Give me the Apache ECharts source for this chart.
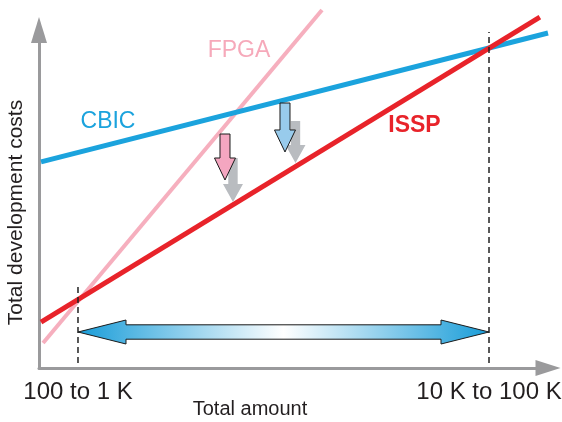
<!DOCTYPE html>
<html>
<head>
<meta charset="utf-8">
<script src="https://cdn.jsdelivr.net/npm/echarts@6/dist/echarts.min.js"></script>
<style>
html,body{margin:0;padding:0;background:#fff;}
#chart{width:562px;height:422px;}
</style>
</head>
<body>
<div id="chart"></div>
<script>
// ---- data (conceptual value space 0..100 on both axes) ----
const cbicLine = [[0.4, 61.0], [100, 99.1]];
const isspLine = [[0.4, 13.6], [98.4, 103.8]];
const fpgaLine = [[0.8, 7.4], [55.6, 105.9]];
const tickValues = [7.66, 88.41];
const tickLabels = ['100 to 1 K', '10 K to 100 K'];
const dashLeft = [[7.66, 1.5], [7.66, 24.3]];
const dashRight = [[88.41, 1.5], [88.41, 99.4]];
const rangeArrow = [[7.66, 88.41, 10.65]];
const shadowArrows = [[38.11, 62.13, 49.11], [50.39, 73.08, 60.65]];
const shiftArrows = [[36.54, 69.23, 55.62], [48.33, 78.40, 63.91]];
const seriesNames = ['CBIC', 'FPGA', 'ISSP'];
const xTitle = 'Total amount';
const yTitle = 'Total development costs';

const FONT = '"Liberation Sans", Arial, Helvetica, sans-serif';
const C_CBIC = '#1BA3DD', C_ISSP = '#E8232A', C_FPGA = '#F6AFBE';
const AXIS = '#9A9A9C';

const chart = echarts.init(document.getElementById('chart'), null, {renderer: 'canvas'});

function renderRange(params, api) {
  const p1 = api.coord([api.value(0), api.value(2)]);
  const p2 = api.coord([api.value(1), api.value(2)]);
  const y = p1[1], L = 48, H = 12, S = 7.2;
  const pts = [[p1[0], y], [p1[0] + L, y - H], [p1[0] + L, y - S], [p2[0] - L, y - S], [p2[0] - L, y - H],
    [p2[0], y], [p2[0] - L, y + H], [p2[0] - L, y + S], [p1[0] + L, y + S], [p1[0] + L, y + H]];
  return {
    type: 'polygon', shape: {points: pts},
    style: {
      fill: new echarts.graphic.LinearGradient(0, 0, 1, 0, [
        {offset: 0, color: '#189CD8'}, {offset: 0.5, color: '#FFFFFF'}, {offset: 1, color: '#189CD8'}]),
      stroke: '#1a1a1a', lineWidth: 1
    }
  };
}
function makeDown(fills, stroke, hw, sw, hl) {
  return function (params, api) {
    const top = api.coord([api.value(0), api.value(1)]);
    const tip = api.coord([api.value(0), api.value(2)]);
    const x = top[0];
    const pts = [[x - sw, top[1]], [x + sw, top[1]], [x + sw, tip[1] - hl], [x + hw, tip[1] - hl],
      [x, tip[1]], [x - hw, tip[1] - hl], [x - sw, tip[1] - hl]];
    return {
      type: 'polygon', shape: {points: pts},
      style: {fill: fills[params.dataIndex % fills.length], stroke: stroke, lineWidth: stroke ? 1 : 0}
    };
  };
}

const option = {
  animation: false,
  grid: {left: 39, top: 30, right: 14, bottom: 54, containLabel: false, outerBoundsMode: 'none'},
  xAxis: {
    type: 'value', min: 0, max: 100,
    splitLine: {show: false},
    axisTick: {show: false},
    axisLine: {show: true, lineStyle: {color: AXIS, width: 3}, symbol: ['none', 'triangle'], symbolSize: [16, 25]},
    axisLabel: {
      show: true, customValues: tickValues, margin: 12,
      fontFamily: FONT, fontSize: 24, color: '#231F20',
      formatter: function (v) { const i = tickValues.indexOf(v); return i >= 0 ? tickLabels[i] : ''; }
    }
  },
  yAxis: {
    type: 'value', min: 0, max: 100,
    splitLine: {show: false}, axisTick: {show: false}, axisLabel: {show: false},
    axisLine: {show: true, lineStyle: {color: AXIS, width: 3}, symbol: ['none', 'triangle'], symbolSize: [16, 26]}
  },
  series: [
    {type: 'line', name: seriesNames[1], data: fpgaLine, showSymbol: false, clip: false, z: 2,
      lineStyle: {color: C_FPGA, width: 4}},
    {type: 'line', name: seriesNames[0], data: cbicLine, showSymbol: false, clip: false, z: 3,
      lineStyle: {color: C_CBIC, width: 5}},
    {type: 'line', name: seriesNames[2], data: isspLine, showSymbol: false, clip: false, z: 4,
      lineStyle: {color: C_ISSP, width: 5}},
    {type: 'line', data: dashLeft, showSymbol: false, clip: false, z: 5,
      lineStyle: {color: '#222', width: 1.5, type: [6, 4]}},
    {type: 'line', data: dashRight, showSymbol: false, clip: false, z: 5,
      lineStyle: {color: '#222', width: 1.5, type: [6, 4]}},
    {type: 'custom', data: rangeArrow, renderItem: renderRange, clip: false, z: 6,
      encode: {x: [0, 1], y: 2}},
    {type: 'custom', data: shadowArrows, renderItem: makeDown(['#B9BCC0'], null, 10, 4.7, 18), clip: false, z: 6,
      encode: {x: 0, y: [1, 2]}},
    {type: 'custom', data: shiftArrows, renderItem: makeDown(['#F4A6C0', '#98CBEC'], '#1a1a1a', 10.5, 5, 22), clip: false, z: 7,
      encode: {x: 0, y: [1, 2]}}
  ],
  graphic: [
    {type: 'text', style: {text: seriesNames[0], x: 108, y: 122, align: 'center', verticalAlign: 'middle',
      font: '23px ' + FONT, fill: C_CBIC}},
    {type: 'text', style: {text: seriesNames[1], x: 239, y: 51, align: 'center', verticalAlign: 'middle',
      font: '23px ' + FONT, fill: '#F6A9BA'}},
    {type: 'text', style: {text: seriesNames[2], x: 414.5, y: 126, align: 'center', verticalAlign: 'middle',
      font: 'bold 23px ' + FONT, fill: C_ISSP}},
    {type: 'text', style: {text: xTitle, x: 250, y: 409.5, align: 'center', verticalAlign: 'middle',
      font: '20px ' + FONT, fill: '#231F20'}},
    {type: 'text', x: 16, y: 212.5, rotation: Math.PI / 2,
      style: {text: yTitle, x: 0, y: 0, align: 'center', verticalAlign: 'middle',
        font: '21px ' + FONT, fill: '#231F20'}}
  ]
};
chart.setOption(option);
</script>
</body>
</html>
